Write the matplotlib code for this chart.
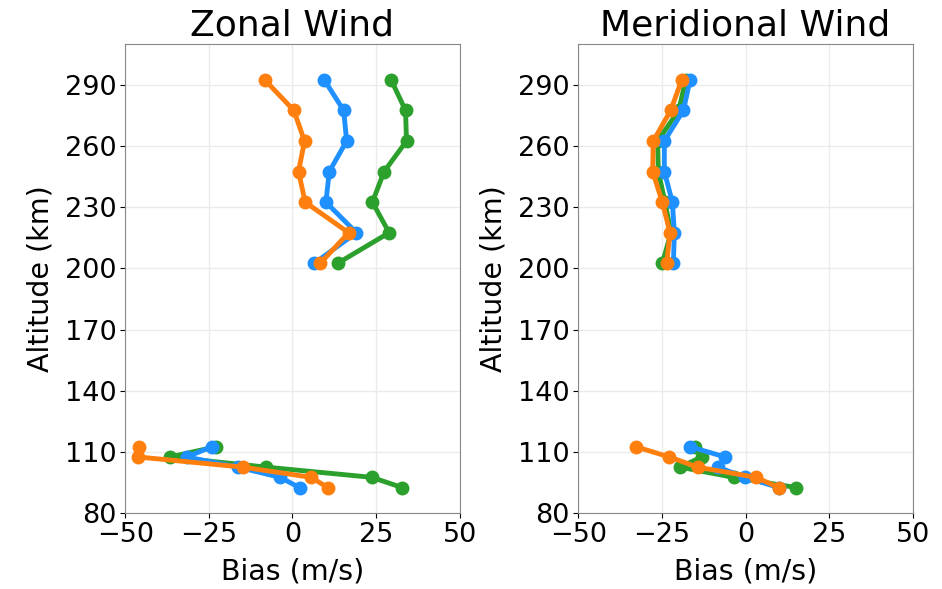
import numpy as np
import matplotlib.pyplot as plt

# altitudes (km)
alt_lo = [92.5, 97.5, 102.5, 107.5, 112.5]
alt_hi = [202.5, 217.5, 232.5, 247.5, 262.5, 277.5, 292.5]

# Zonal wind bias (m/s)
zon_green_lo = [32.8, 23.7, -7.8, -36.6, -22.9]
zon_green_hi = [13.5, 28.9, 23.9, 27.4, 34.1, 33.8, 29.5]
zon_blue_lo = [2.1, -3.7, -16.3, -31.6, -24.2]
zon_blue_hi = [6.5, 19.1, 10.0, 11.0, 16.2, 15.3, 9.5]
zon_orange_lo = [10.5, 5.6, -14.8, -46.2, -46.0]
zon_orange_hi = [8.3, 16.8, 3.8, 1.8, 3.6, 0.4, -8.3]

# Meridional wind bias (m/s)
mer_green_lo = [15.1, -3.6, -19.6, -13.1, -15.1]
mer_green_hi = [-24.9, -22.3, -24.1, -26.1, -26.3, -20.0, -17.9]
mer_blue_lo = [9.9, -0.1, -8.3, -6.1, -16.6]
mer_blue_hi = [-21.6, -21.3, -21.9, -24.3, -24.3, -18.6, -16.6]
mer_orange_lo = [9.9, 3.1, -14.3, -22.8, -32.8]
mer_orange_hi = [-23.6, -22.6, -24.9, -27.8, -27.6, -22.4, -19.1]

colors = {"green": "#2ca02c", "blue": "#1e90ff", "orange": "#ff7f0e"}

fig, axes = plt.subplots(1, 2, figsize=(9.42, 5.89), dpi=100)

panels = [
    ("Zonal Wind", [(zon_green_lo, zon_green_hi, "green"),
                    (zon_blue_lo, zon_blue_hi, "blue"),
                    (zon_orange_lo, zon_orange_hi, "orange")]),
    ("Meridional Wind", [(mer_green_lo, mer_green_hi, "green"),
                         (mer_blue_lo, mer_blue_hi, "blue"),
                         (mer_orange_lo, mer_orange_hi, "orange")]),
]

for ax, (title, series) in zip(axes, panels):
    for lo, hi, c in series:
        ax.plot(lo, alt_lo, "-o", color=colors[c], lw=3.5, ms=9)
        ax.plot(hi, alt_hi, "-o", color=colors[c], lw=3.5, ms=9)
    ax.set_xlim(-50, 50)
    ax.set_ylim(80, 310)
    ax.set_xticks([-50, -25, 0, 25, 50])
    ax.set_yticks(np.arange(80, 300, 30))
    ax.grid(True, color="#ebebeb", lw=1)
    ax.set_axisbelow(True)
    ax.tick_params(labelsize=19.5, pad=3)
    ax.set_title(title, fontsize=26)
    ax.set_xlabel("Bias (m/s)", fontsize=20.5, labelpad=7)
    ax.set_ylabel("Altitude (km)", fontsize=20.5, labelpad=7)
    for s in ax.spines.values():
        s.set_color("#888888")

plt.subplots_adjust(left=0.133, right=0.969, bottom=0.129, top=0.925, wspace=0.355)
plt.savefig("out.png")
